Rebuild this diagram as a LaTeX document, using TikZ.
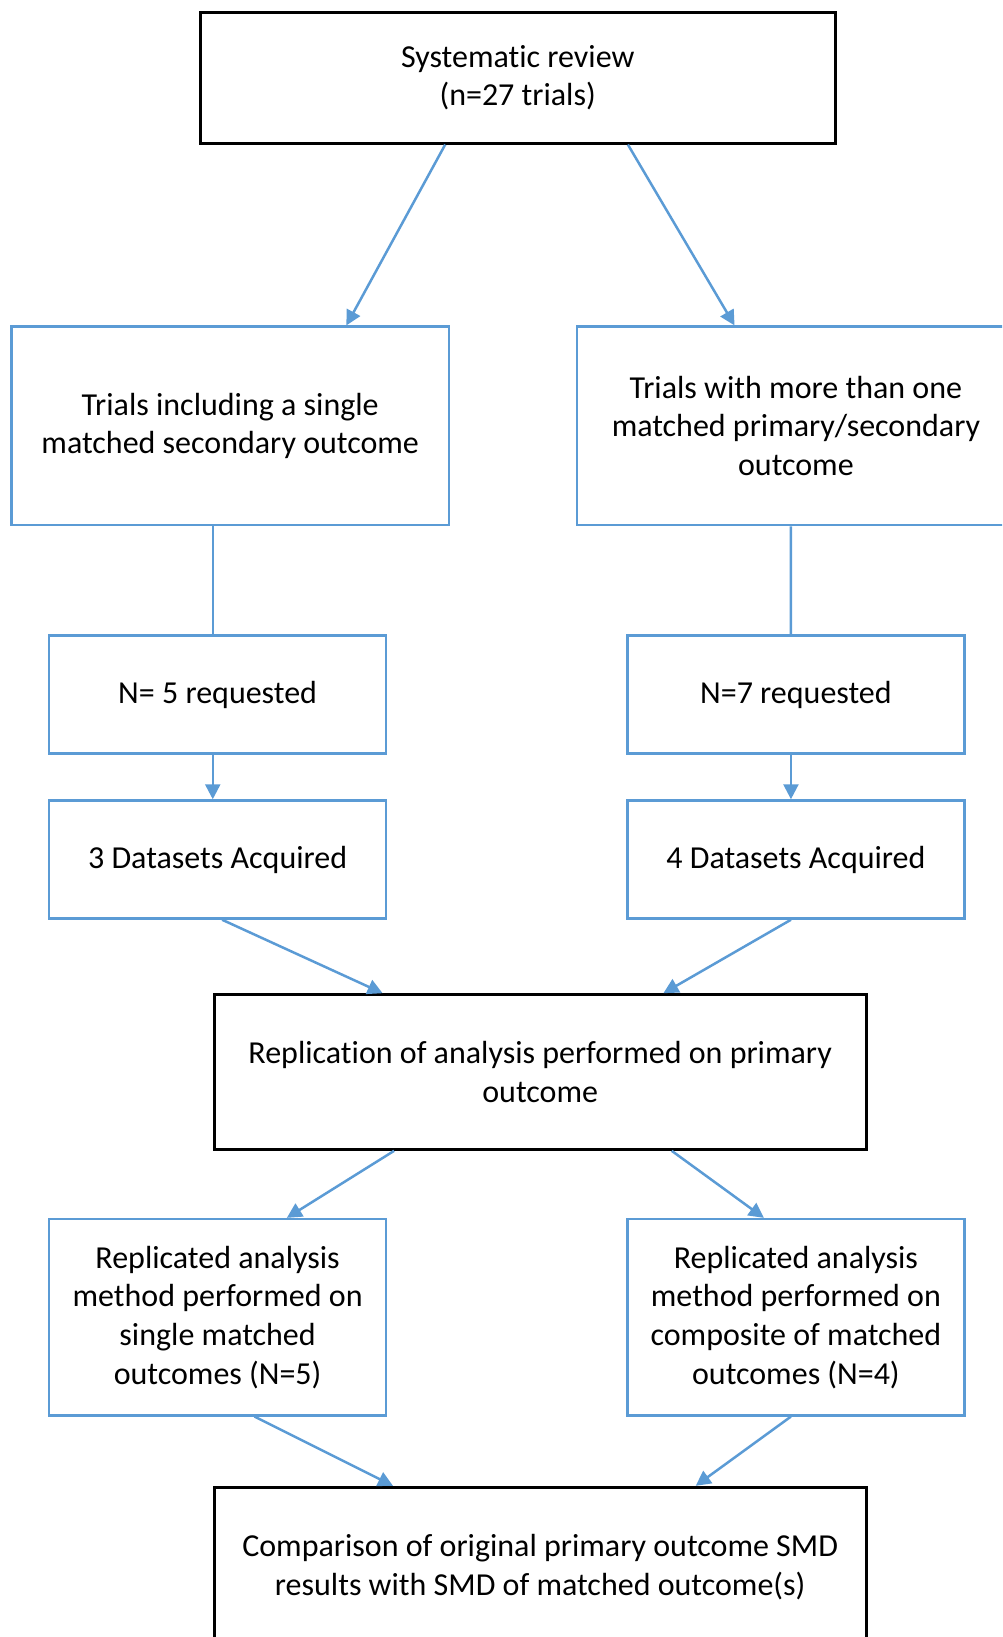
\documentclass[tikz,border=0pt]{standalone}
\usepackage{fontspec}
\setmainfont{Carlito}[Ligatures=NoCommon]
\usetikzlibrary{arrows.meta,calc}
\definecolor{officeblue}{HTML}{5B9BD5}

\begin{document}
\begin{tikzpicture}[x=0.5pt, y=-0.5pt,
    every node/.style={font=\fontsize{16}{19.3}\selectfont, align=center, inner sep=0pt},
    bluebox/.style={draw=officeblue, line width=1.25pt},
    blackbox/.style={draw=black, line width=1.5pt},
    link/.style={draw=officeblue, line width=1.25pt},
    arrow/.style={link, -{Triangle[length=7.5pt,width=7.5pt]}}]
  	\useasboundingbox (0,0) rectangle (1002,1637);
  	\clip (0,0) rectangle (1002,1637);

  	% boxes
  	\node[blackbox, minimum width=317.3pt, minimum height=65.3pt] (review) at (517.7,77.8)
    		{Systematic review\\(n=27 trials)};
  	\node[bluebox, minimum width=218.7pt, minimum height=99.2pt] (single) at (230.2,425.9)
    		{Trials including a single\\matched secondary outcome};
  	\node[bluebox, minimum width=218.7pt, minimum height=99.2pt] (multi) at (795.9,425.9)
    		{Trials with more than one\\matched primary/secondary\\outcome};
  	\node[bluebox, minimum width=168.6pt, minimum height=59pt] (req5) at (217.6,694.6)
    		{N= 5 requested};
  	\node[bluebox, minimum width=168.6pt, minimum height=59pt] (req7) at (795.9,694.6)
    		{N=7 requested};
  	\node[bluebox, minimum width=168.6pt, minimum height=59pt] (data3) at (217.6,859.5)
    		{3 Datasets Acquired};
  	\node[bluebox, minimum width=168.6pt, minimum height=59pt] (data4) at (795.9,859.5)
    		{4 Datasets Acquired};
  	\node[blackbox, minimum width=326.2pt, minimum height=77.3pt] (replic) at (540.2,1072)
    		{Replication of analysis performed on primary\\outcome};
  	\node[bluebox, minimum width=168.6pt, minimum height=98.1pt] (repsingle) at (217.6,1317.2)
    		{Replicated analysis\\method performed on\\single matched\\outcomes (N=5)};
  	\node[bluebox, minimum width=168.6pt, minimum height=98.1pt] (repcomp) at (795.9,1317.2)
    		{Replicated analysis\\method performed on\\composite of matched\\outcomes (N=4)};
  	\node[blackbox, minimum width=326.2pt, minimum height=80pt] (compare) at (540.2,1567.3)
    		{Comparison of original primary outcome SMD\\results with SMD of matched outcome(s)};

  	% connectors
  	\draw[arrow] ($(review.south west)+(246.3,0)$) -- ($(single.north west)+(336.1,0)$);
  	\draw[arrow] ($(review.south west)+(429,0)$) -- ($(multi.north west)+(158.6,0)$);
  	\draw[link] ($(single.south west)+(202.5,0)$) -- ($(req5.north west)+(165,0)$);
  	\draw[link] ($(multi.south west)+(215,0)$) -- ($(req7.north west)+(164.9,0)$);
  	\draw[arrow] ($(req5.south west)+(165,0)$) -- ($(data3.north west)+(165,0)$);
  	\draw[arrow] ($(req7.south west)+(164.9,0)$) -- ($(data4.north west)+(164.9,0)$);
  	\draw[arrow] ($(data3.south west)+(174.4,0)$) -- ($(replic.north west)+(170.1,0)$);
  	\draw[arrow] ($(data4.south west)+(164.9,0)$) -- ($(replic.north west)+(450.9,0)$);
  	\draw[arrow] ($(replic.south west)+(181.6,0)$) -- ($(repsingle.north west)+(239.1,0)$);
  	\draw[arrow] ($(replic.south west)+(459.2,0)$) -- ($(repcomp.north west)+(137.8,0)$);
  	\draw[arrow] ($(repsingle.south west)+(206.7,0)$) -- ($(compare.north west)+(180.5,0)$);
  	\draw[arrow] ($(repcomp.south west)+(164.9,0)$) -- ($(compare.north west)+(483.2,0)$);
\end{tikzpicture}
\end{document}
